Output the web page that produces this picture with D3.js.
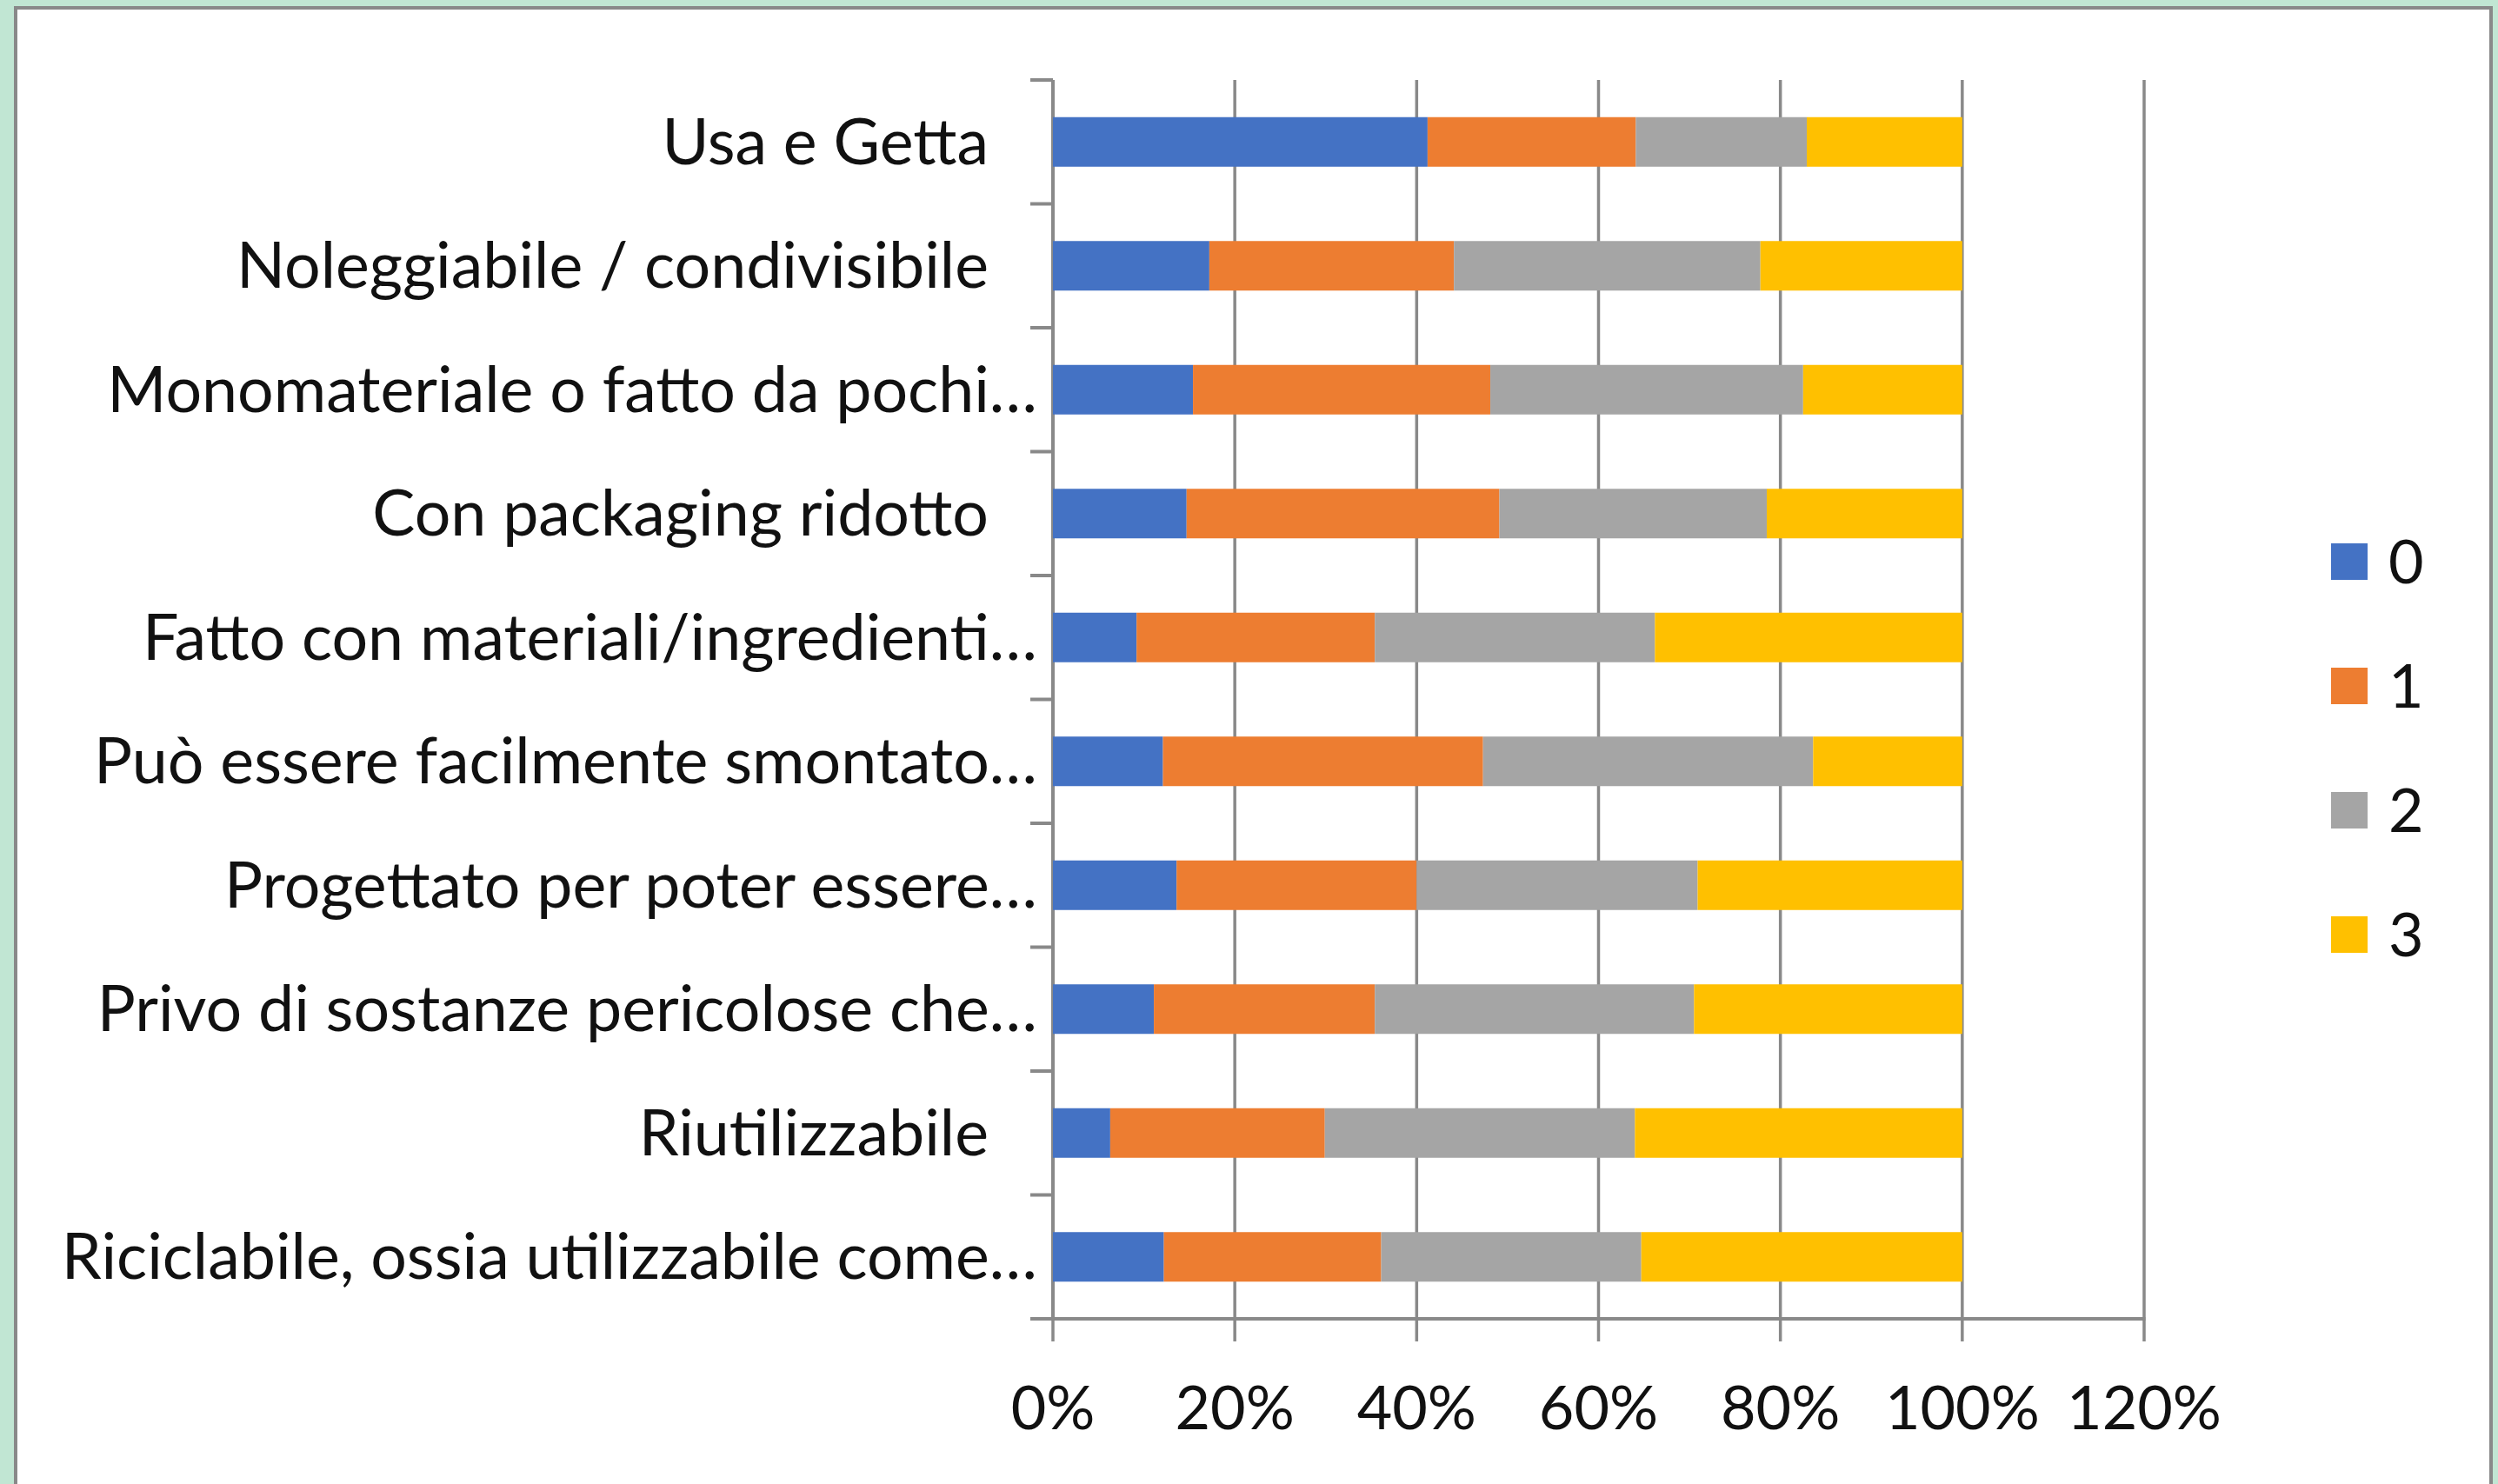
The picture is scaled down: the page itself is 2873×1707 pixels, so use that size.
<!DOCTYPE html>
<head>
    <style>
        * {
            padding: 0;
            margin: 0;
        }

        body {
            background: #c1e6d3;
            overflow: hidden;
        }

        svg text {
            font-family: Lato, "Open Sans", sans-serif;
            fill: #111;
        }
    </style>
    <script src="https://cdn.jsdelivr.net/npm/d3@7/dist/d3.min.js"></script>
</head>

<body>
    <script>

        /////////////////////////////////////////////////////
        // DATA
        /////////////////////////////////////////////////////

        //Categories from top to bottom
        const categories = [
            "Usa e Getta",
            "Noleggiabile / condivisibile",
            "Monomateriale o fatto da pochi…",
            "Con packaging ridotto",
            "Fatto con materiali/ingredienti…",
            "Può essere facilmente smontato…",
            "Progettato per poter essere…",
            "Privo di sostanze pericolose che…",
            "Riutilizzabile",
            "Riciclabile, ossia utilizzabile come…"
        ]

        const seriesNames = ["0", "1", "2", "3"]

        //Share of answers (%) per category, one array per score
        const score0 = [41.2, 17.2, 15.4, 14.7, 9.2, 12.1, 13.6, 11.1, 6.3, 12.2]
        const score1 = [22.9, 26.9, 32.7, 34.4, 26.2, 35.2, 26.4, 24.3, 23.6, 23.9]
        const score2 = [18.8, 33.7, 34.4, 29.4, 30.8, 36.3, 30.9, 35.1, 34.1, 28.6]
        const score3 = [17.1, 22.2, 17.5, 21.5, 33.8, 16.4, 29.1, 29.5, 36.0, 35.3]

        const xTicks = [0, 0.2, 0.4, 0.6, 0.8, 1, 1.2]

        const colors = ["#4472C4", "#ED7D31", "#A5A5A5", "#FFC000"]

        /////////////////////////////////////////////////////
        // SETUP SVG
        /////////////////////////////////////////////////////

        const width = 2873
        const height = 1707
        const axisColor = "#898989"
        const fontSize = 70
        const labelSize = 73.5

        const svg = d3.select("body").append("svg")
            .attr("width", width)
            .attr("height", height)

        //White chart area with the grey frame
        svg.append("rect")
            .attr("x", 18)
            .attr("y", 9)
            .attr("width", 2847)
            .attr("height", 1760)
            .attr("fill", "white")
            .attr("stroke", axisColor)
            .attr("stroke-width", 4)

        /////////////////////////////////////////////////////
        // SCALES
        /////////////////////////////////////////////////////

        const x = d3.scaleLinear()
            .domain([0, 1.2])
            .range([1211, 2466])

        const y = d3.scaleBand()
            .domain(categories)
            .range([92, 1517])
            .paddingInner(0.6)
            .paddingOuter(0.3)

        //Stack the four scores per category
        const table = categories.map((c, i) => ({
            category: c,
            "0": score0[i] / 100,
            "1": score1[i] / 100,
            "2": score2[i] / 100,
            "3": score3[i] / 100
        }))
        const stacked = d3.stack().keys(seriesNames)(table)

        /////////////////////////////////////////////////////
        // GRID & AXES
        /////////////////////////////////////////////////////

        const tickLen = 26
        const yTop = y.range()[0]
        const yBottom = y.range()[1]

        //Vertical gridlines (with the tick below the axis)
        svg.append("g")
            .selectAll("line")
            .data(xTicks)
            .join("line")
            .attr("x1", d => x(d))
            .attr("x2", d => x(d))
            .attr("y1", yTop)
            .attr("y2", yBottom + tickLen)
            .attr("stroke", axisColor)
            .attr("stroke-width", 3.5)

        //Bottom axis line
        svg.append("line")
            .attr("x1", x(0) - tickLen)
            .attr("x2", x(1.2) + 1.5)
            .attr("y1", yBottom)
            .attr("y2", yBottom)
            .attr("stroke", axisColor)
            .attr("stroke-width", 4)

        //Left axis line and category separators
        svg.append("line")
            .attr("x1", x(0))
            .attr("x2", x(0))
            .attr("y1", yTop)
            .attr("y2", yBottom)
            .attr("stroke", axisColor)
            .attr("stroke-width", 4)

        svg.append("g")
            .selectAll("line")
            .data(d3.range(categories.length))
            .join("line")
            .attr("x1", x(0) - tickLen)
            .attr("x2", x(0))
            .attr("y1", i => yTop + i * y.step())
            .attr("y2", i => yTop + i * y.step())
            .attr("stroke", axisColor)
            .attr("stroke-width", 4)

        //Tick labels
        svg.append("g")
            .selectAll("text")
            .data(xTicks)
            .join("text")
            .attr("x", d => x(d))
            .attr("y", yBottom + 127)
            .attr("text-anchor", "middle")
            .style("font-size", `${fontSize}px`)
            .text(d => d3.format(".0%")(d))

        //Category labels, the cut ones run closer to the axis
        svg.append("g")
            .selectAll("text")
            .data(categories)
            .join("text")
            .attr("x", d => d.endsWith("…") ? x(0) - 18 : x(0) - 74)
            .attr("y", d => y(d) + y.bandwidth() / 2)
            .attr("dy", "0.35em")
            .attr("text-anchor", "end")
            .style("font-size", `${labelSize}px`)
            .text(d => d)

        /////////////////////////////////////////////////////
        // BARS
        /////////////////////////////////////////////////////

        svg.append("g")
            .selectAll("g")
            .data(stacked)
            .join("g")
            .attr("fill", (d, i) => colors[i])
            .selectAll("rect")
            .data(d => d)
            .join("rect")
            .attr("x", d => x(d[0]))
            .attr("y", d => y(d.data.category))
            .attr("width", d => x(d[1]) - x(d[0]))
            .attr("height", y.bandwidth())

        /////////////////////////////////////////////////////
        // LEGEND
        /////////////////////////////////////////////////////

        const legend = svg.append("g")
            .selectAll("g")
            .data(seriesNames)
            .join("g")
            .attr("transform", (d, i) => `translate(2681, ${646 + i * 143})`)

        legend.append("rect")
            .attr("y", -21)
            .attr("width", 42)
            .attr("height", 42)
            .attr("fill", (d, i) => colors[i])

        legend.append("text")
            .attr("x", 66)
            .attr("dy", "0.36em")
            .style("font-size", `${fontSize}px`)
            .text(d => d)

    </script>
</body>
